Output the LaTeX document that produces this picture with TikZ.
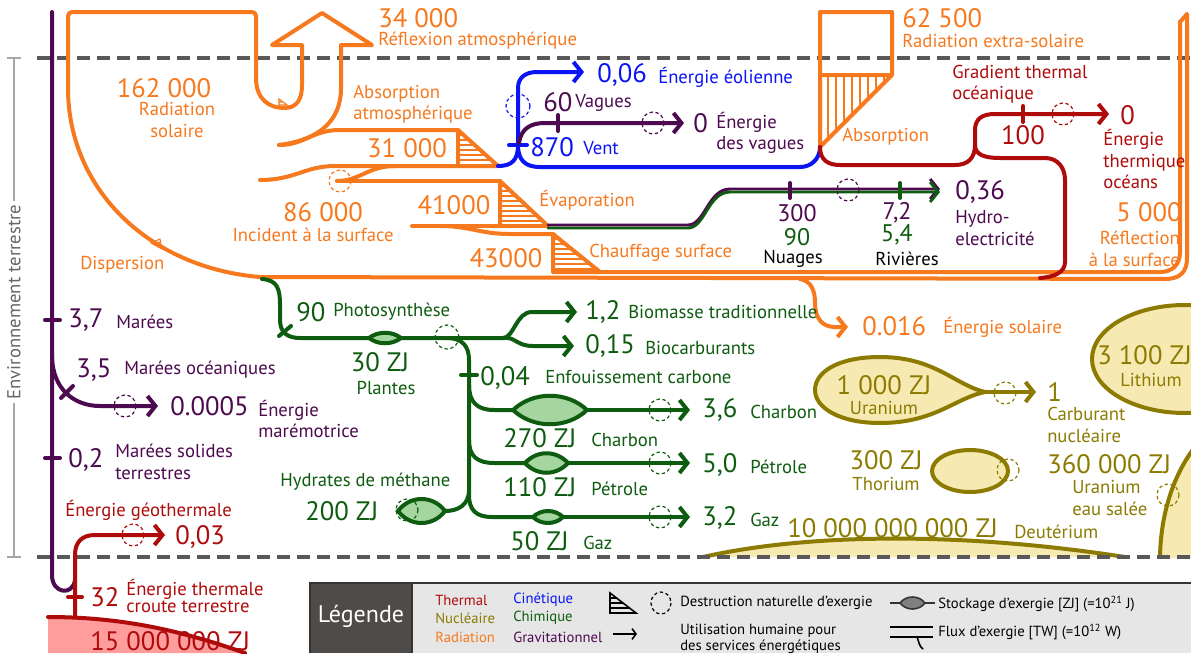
\documentclass[tikz,border=0pt]{standalone}
\usepackage{fontspec}
\setmainfont{PT Sans}
\usetikzlibrary{arrows.meta}
\definecolor{kor}{HTML}{F7791E}
\definecolor{kre}{HTML}{B00B0B}
\definecolor{kbl}{HTML}{0A14F5}
\definecolor{kpu}{HTML}{4E0A50}
\definecolor{kgr}{HTML}{0E5C10}
\definecolor{kgrf}{HTML}{A6D6A0}
\definecolor{kol}{HTML}{8C7B00}
\definecolor{kolf}{HTML}{F6EAB2}
\definecolor{kgy}{HTML}{5A5858}
\definecolor{kpk}{HTML}{FF9C9C}
\definecolor{klbg}{HTML}{E6E6E6}
\definecolor{kldk}{HTML}{4E4B49}
\tikzset{
 flow/.style={line width=3pt, line cap=round, line join=round},
 thinflow/.style={line width=2.2pt, line cap=round, line join=round},
 arr/.style={-{Straight Barb[length=6pt,width=15pt]}},
 dcirc/.style={line width=0.9pt, dash pattern=on 2.5pt off 2pt},
 hatch/.style={line width=0.8pt},
 big/.style={font=\fontsize{20}{22}\selectfont, inner sep=0pt},
 med/.style={font=\fontsize{18}{20}\selectfont, inner sep=0pt},
 lab/.style={font=\fontsize{14}{16}\selectfont, inner sep=0pt},
 leg/.style={font=\fontsize{11}{12}\selectfont, inner sep=0pt},
 gridline/.style={line width=3pt, draw=kgy, dash pattern=on 9.5pt off 5.5pt},
}
\begin{document}
\begin{tikzpicture}[x=0.75pt,y=-0.75pt]
\useasboundingbox (0,0) rectangle (1191,653);
\fill[white] (0,0) rectangle (1191,653);

% ---------- nuclear stocks ----------
\filldraw[fill=kolf,draw=kol,line width=3pt] (703,557) .. controls (800,535) and (950,530) .. (1125,557);
\begin{scope}
\clip (0,0) rectangle (1191,557);
\filldraw[fill=kolf,draw=kol,line width=3pt] (1262,560) ellipse [x radius=102, y radius=150];
\end{scope}
\filldraw[fill=kolf,draw=kol,line width=3pt] (1185,359) ellipse [x radius=93, y radius=54];
\filldraw[fill=kolf,draw=kol,line width=3pt] (970,471) ellipse [x radius=38, y radius=21];
\filldraw[fill=kolf,draw=kol,line width=3pt,line join=round] (985,392) .. controls (955,385) and (935,357) .. (880,357) .. controls (838,357) and (815,372) .. (815,390) .. controls (815,408) and (840,423) .. (880,423) .. controls (935,423) and (955,398) .. (985,392) -- cycle;
\draw[kol,flow,arr] (985,392) -- (1036,392);
\draw[kol,dcirc] (1005,393) circle[radius=11];
\draw[kol,dcirc] (1008,470) circle[radius=11];
\draw[kol,dcirc] (1168,495) circle[radius=11];

% ---------- earth crust ----------
\fill[kpk] (48,617) .. controls (120,617) and (180,630) .. (245,653) -- (48,653) -- cycle;
\draw[kre,flow] (48,617) .. controls (120,617) and (180,630) .. (245,653);

% ---------- boundaries ----------
\draw[gridline] (37,58) -- (1191,58);
\draw[gridline] (37,557) -- (1191,557);
\draw[black!35,line width=0.8pt] (14,58) -- (14,557) (7,58) -- (21,58) (7,557) -- (21,557);
\node[lab,black!60,fill=white,inner sep=3pt,rotate=90] (env) at (14,302) {Environnement terrestre};

% ---------- gravitational (purple) ----------
\draw[kpu,flow] (52,12) -- (52,575) .. controls (52,594) and (73,596) .. (75,580);
\draw[kpu,flow] (45,320) -- (60,320) (45,458) -- (60,458);
\draw[kpu,flow,arr] (52,355) .. controls (52,390) and (75,406) .. (100,406) -- (158,406);
\draw[kpu,flow] (61,398) -- (73,386);
\draw[kpu,dcirc] (125,406) circle[radius=11];

% ---------- geothermal (red) ----------
\draw[kre,flow,arr] (75,617) -- (75,555) .. controls (75,542) and (82,535) .. (95,535) -- (165,535);
\draw[kre,flow] (68,597) -- (82,597);
\draw[kre,dcirc] (133,535) circle[radius=11];

% ---------- radiation (orange) ----------
\draw[kor,flow,rounded corners=3] (256,80) -- (256,12) -- (68,12) -- (68,90);
\draw[kor,flow] (68,88) .. controls (68,190) and (150,268) .. (260,277) -- (1165,279) .. controls (1180,279) and (1187,272) .. (1187,258) -- (1187,14) -- (1180,22);
\draw[kor,flow] (600,272) -- (1160,272) .. controls (1172,272) and (1180,265) .. (1180,252) -- (1180,22);
% reflection arrow
\draw[kor,flow] (256,78) .. controls (256,100) and (270,108) .. (284,108) .. controls (298,108) and (302,98) .. (302,85) -- (302,45) -- (272,45) -- (322,13) -- (372,45) -- (341,45) -- (341,88) .. controls (341,122) and (318,140) .. (279,145);
\draw[kor,hatch] (279,99) -- (279,108) -- (291,108) -- cycle (279,102) -- (283,102) (279,105) -- (287,105);
% dispersion hatch
\draw[kor,hatch] (151,243) -- (160,239) -- (162,249) -- cycle (154,244) -- (160,242);
% absorption atmospherique band
\draw[kor,flow] (279,145) .. controls (305,145) and (312,130) .. (340,130) -- (458,130);
\draw[kor,flow] (260,180) .. controls (295,180) and (305,166) .. (335,166) -- (498,166);
\draw[kor,flow] (458,130) -- (458,166) (458,130) -- (498,166);
\foreach \yy in {135,140,...,162} {\draw[kor,hatch] (458,\yy) -- ({458+(\yy-130)*40/36},\yy);}
% incident band
\draw[kor,flow] (337,181) .. controls (360,181) and (368,166) .. (395,166);
\draw[kor,flow] (337,181) -- (500,181);
\draw[kor,dcirc] (340,181) circle[radius=11];
\draw[kor,flow] (500,181) -- (500,226) (500,181) -- (548,226);
\foreach \yy in {186,191,...,222} {\draw[kor,hatch] (500,\yy) -- ({500+(\yy-181)*48/45},\yy);}
\draw[kor,flow] (412,226) -- (548,226);
\draw[kor,flow] (440,226) .. controls (470,226) and (480,234) .. (510,234) -- (553,234);
\draw[kor,flow] (553,234) -- (553,272) -- (600,272) (553,234) -- (600,272);
\foreach \yy in {239,244,...,269} {\draw[kor,hatch] (553,\yy) -- ({553+(\yy-234)*47/38},\yy);}
% extra-solar box
\draw[kor,flow] (820,147) -- (820,12) -- (892,12) -- (892,75) -- (820,75) (892,75) -- (820,147);
\foreach \xx in {828,836,...,884} {\draw[kor,hatch] (\xx,75) -- (\xx,{75+(892-\xx)});}
% solar energy
\draw[kor,flow,arr] (800,279) .. controls (812,281) and (815,292) .. (815,303) .. controls (815,318) and (822,327) .. (835,327) -- (848,327);

% ---------- kinetic (blue) ----------
\draw[kbl,flow,arr] (498,166) .. controls (512,166) and (518,160) .. (518,145) -- (518,88) .. controls (518,78) and (525,72) .. (537,72) -- (584,72);
\draw[kbl,flow] (518,145) .. controls (518,160) and (525,167) .. (540,167) -- (800,167) .. controls (812,167) and (820,158) .. (820,147);
\draw[kbl,flow] (509,145) -- (527,145);
\draw[kbl,dcirc] (518,106) circle[radius=12];

% waves (purple)
\draw[kpu,flow,arr] (519,143) .. controls (521,129) and (530,123) .. (545,123) -- (684,123);
\draw[kpu,flow] (558,115) -- (558,131);
\draw[kpu,dcirc] (653,123) circle[radius=11];

% ---------- thermal ocean (red) ----------
\draw[kre,flow,arr] (820,147) .. controls (820,160) and (828,165) .. (840,165) -- (955,165) .. controls (968,165) and (975,158) .. (975,145) -- (975,130) .. controls (975,119) and (982,114) .. (995,114) -- (1109,114);
\draw[kre,flow] (975,145) .. controls (975,155) and (985,158) .. (1000,158) -- (1045,158) .. controls (1058,158) and (1065,168) .. (1065,180) -- (1065,262) .. controls (1065,272) and (1055,277) .. (1040,278);
\draw[kre,flow] (1023,106) -- (1023,122);
\draw[kre,dcirc] (1063,114) circle[radius=11];

% ---------- evaporation -> hydro ----------
\draw[kpu,thinflow,arr] (548,225) -- (688,225) .. controls (705,225) and (708,189) .. (730,189) -- (940,189);
\draw[kgr,thinflow,arr] (548,228) -- (688,228) .. controls (705,228) and (708,192) .. (730,192) -- (940,192);
\draw[kpu,flow] (790,183) -- (790,198);
\draw[kgr,flow] (900,183) -- (900,198);
\draw[kpu,dcirc] (848,190) circle[radius=11];

% ---------- chemical (green) ----------
\draw[kgr,flow] (262,279) .. controls (278,280) and (280,290) .. (280,305) -- (280,320) .. controls (280,333) and (288,338) .. (300,338) -- (505,338);
\draw[kgr,flow] (279,336) -- (291,326);
\draw[kgr,flow,arr] (503,338) .. controls (514,338) and (516,312) .. (532,312) -- (577,312);
\draw[kgr,flow,arr] (507,338) .. controls (515,338) and (518,346) .. (533,346) -- (574,346);
\draw[kgr,dcirc] (447,337) circle[radius=12];
\draw[kgr,flow] (447,338) .. controls (462,338) and (469,346) .. (469,360) -- (469,495) .. controls (469,510) and (476,517) .. (492,517) -- (533,517);
\draw[kgr,flow] (461,375) -- (477,375);
\draw[kgr,flow] (469,385) .. controls (469,402) and (477,410) .. (494,410) -- (513,410);
\draw[kgr,flow] (469,440) .. controls (469,456) and (477,463) .. (494,463) -- (525,463);
\draw[kgr,flow] (445,511) .. controls (458,511) and (469,505) .. (469,490);
\draw[kgr,flow,arr] (587,410) -- (690,410);
\draw[kgr,flow,arr] (568,463) -- (690,463);
\draw[kgr,flow,arr] (563,517) -- (690,517);
\filldraw[fill=kgrf,draw=kgr,line width=3pt] (369,338) .. controls (378,331) and (392,331) .. (401,338) .. controls (392,345) and (378,345) .. (369,338) -- cycle;
\filldraw[fill=kgrf,draw=kgr,line width=3pt] (513,410) .. controls (533,391) and (567,391) .. (587,410) .. controls (567,429) and (533,429) .. (513,410) -- cycle;
\filldraw[fill=kgrf,draw=kgr,line width=3pt] (525,463) .. controls (537,450) and (556,450) .. (568,463) .. controls (556,476) and (537,476) .. (525,463) -- cycle;
\filldraw[fill=kgrf,draw=kgr,line width=3pt] (533,517) .. controls (541,509) and (555,509) .. (563,517) .. controls (555,525) and (541,525) .. (533,517) -- cycle;
\filldraw[fill=kgrf,draw=kgr,line width=3pt] (398,511) .. controls (410,495) and (433,495) .. (445,511) .. controls (433,527) and (410,527) .. (398,511) -- cycle;
\draw[kgr,dcirc] (407,510) circle[radius=11];
\draw[kgr,dcirc] (660,410) circle[radius=11];
\draw[kgr,dcirc] (660,463) circle[radius=11];
\draw[kgr,dcirc] (660,517) circle[radius=11];

% ---------- texts: radiation ----------
\node[big,kor,anchor=west] (t34) at (378,18) {34 000};
\node[lab,kor,anchor=west] (t34l) at (378,41) {Réflexion atmosphérique};
\node[big,kor] (t162) at (164,88) {162 000};
\node[lab,kor,align=center] (t162l) at (177,120) {Radiation\\solaire};
\node[lab,kor,align=left,anchor=west] (tabs) at (353,104) {Absorption\\atmosphérique};
\node[big,kor] (t31) at (407,148) {31 000};
\node[big,kor] (t86) at (323,212) {86 000};
\node[lab,kor] (t86l) at (313,235) {Incident à la surface};
\node[big,kor] (t41) at (454,205) {41000};
\node[lab,kor,anchor=west] (tevap) at (539,200) {Évaporation};
\node[big,kor] (t43) at (506,258) {43000};
\node[lab,kor,anchor=west] (tchauf) at (589,253) {Chauffage surface};
\node[lab,kor,anchor=west] (tdisp) at (80,265) {Dispersion};
\node[big,kor,anchor=west] (t625) at (902,18) {62 500};
\node[lab,kor,anchor=west] (t625l) at (902,41) {Radiation extra-solaire};
\node[lab,kor,anchor=west] (tabs2) at (842,137) {Absorption};
\node[big,kor,anchor=east] (t5000) at (1182,212) {5 000};
\node[lab,kor,align=right,anchor=east] (t5000l) at (1180,249) {Réflection\\à la surface};
\node[big,kor,anchor=west] (t016) at (862,326) {0.016};
\node[lab,kor,anchor=west] (t016l) at (943,327) {Énergie solaire};

% ---------- texts: kinetic / gravitational ----------
\node[big,kbl,anchor=west] (t006) at (597,75) {0,06};
\node[lab,kbl,anchor=west] (t006l) at (658,77) {Énergie éolienne};
\node[big,kbl,anchor=west] (t870) at (530,147) {870};
\node[lab,kbl,anchor=west] (t870l) at (583,148) {Vent};
\node[big,kpu,anchor=west] (t60) at (543,102) {60};
\node[lab,kpu,anchor=west] (t60l) at (575,103) {Vagues};
\node[big,kpu,anchor=west] (t0v) at (693,123) {0};
\node[lab,kpu,align=left,anchor=west] (t0vl) at (716,133) {Énergie\\des vagues};
\node[big,kpu,anchor=west] (t036) at (955,192) {0,36};
\node[lab,kpu,align=left,anchor=west] (t036l) at (955,228) {Hydro-\\electricité};
\node[med,kpu] (t300) at (797,213) {300};
\node[med,kgr] (t90n) at (797,237) {90};
\node[lab,black] (tnuag) at (793,259) {Nuages};
\node[med,kpu] (t72) at (897,213) {7,2};
\node[med,kgr] (t54) at (897,235) {5,4};
\node[lab,black] (triv) at (907,259) {Rivières};
\node[big,kpu,anchor=west] (t37) at (68,320) {3,7};
\node[lab,kpu,anchor=west] (t37l) at (116,322) {Marées};
\node[big,kpu,anchor=west] (t35) at (76,370) {3,5};
\node[lab,kpu,anchor=west] (t35l) at (124,370) {Marées océaniques};
\node[big,kpu,anchor=west] (t0005) at (170,406) {0.0005};
\node[lab,kpu,align=left,anchor=west] (t0005l) at (258,419) {Énergie\\marémotrice};
\node[big,kpu,anchor=west] (t02) at (68,460) {0,2};
\node[lab,kpu,align=left,anchor=west] (t02l) at (115,462) {Marées solides\\terrestres};

% ---------- texts: chemical ----------
\node[big,kgr,anchor=west] (t90) at (296,312) {90};
\node[lab,kgr,anchor=west] (t90l) at (333,312) {Photosynthèse};
\node[big,kgr] (t30) at (380,362) {30 ZJ};
\node[lab,kgr] (t30l) at (386,388) {Plantes};
\node[big,kgr,anchor=west] (t12) at (585,312) {1,2};
\node[lab,kgr,anchor=west] (t12l) at (628,312) {Biomasse traditionnelle};
\node[big,kgr,anchor=west] (t015) at (585,346) {0,15};
\node[lab,kgr,anchor=west] (t015l) at (645,348) {Biocarburants};
\node[big,kgr,anchor=west] (t004) at (480,378) {0,04};
\node[lab,kgr,anchor=west] (t004l) at (545,377) {Enfouissement carbone};
\node[big,kgr,anchor=west] (t36) at (702,410) {3,6};
\node[lab,kgr,anchor=west] (t36l) at (750,412) {Charbon};
\node[big,kgr,anchor=west] (t270) at (503,438) {270 ZJ};
\node[lab,kgr,anchor=west] (t270l) at (591,440) {Charbon};
\node[big,kgr,anchor=west] (t50) at (702,465) {5,0};
\node[lab,kgr,anchor=west] (t50l) at (750,467) {Pétrole};
\node[big,kgr,anchor=west] (t110) at (503,487) {110 ZJ};
\node[lab,kgr,anchor=west] (t110l) at (591,489) {Pétrole};
\node[big,kgr,anchor=west] (t32g) at (702,518) {3,2};
\node[lab,kgr,anchor=west] (t32gl) at (750,520) {Gaz};
\node[big,kgr,anchor=west] (t50zj) at (510,541) {50 ZJ};
\node[lab,kgr,anchor=west] (t50zjl) at (583,543) {Gaz};
\node[lab,kgr,anchor=west] (thyd) at (280,482) {Hydrates de méthane};
\node[big,kgr,anchor=west] (t200) at (305,511) {200 ZJ};

% ---------- texts: thermal ----------
\node[lab,kre,align=left,anchor=west] (tgrad) at (952,84) {Gradient thermal\\océanique};
\node[big,kre] (t100) at (1023,135) {100};
\node[big,kre,anchor=west] (t0t) at (1120,115) {0};
\node[lab,kre,align=left,anchor=west] (t0tl) at (1103,159) {Énergie\\thermique\\océans};
\node[lab,kre,anchor=west] (tgeo) at (65,510) {Énergie géothermale};
\node[big,kre,anchor=west] (t003) at (175,537) {0,03};
\node[big,kre,anchor=west] (t32) at (90,597) {32};
\node[kre,inner sep=0pt,font=\fontsize{14}{13}\selectfont,align=left,anchor=west] (t32l) at (126,596) {Énergie thermale\\croute terrestre};
\node[big,kre,anchor=west] (tcrust) at (90,641) {15 000 000 ZJ};

% ---------- texts: nuclear ----------
\node[big,kol] (tu) at (884,385) {1 000 ZJ};
\node[lab,kol] (tul) at (884,408) {Uranium};
\node[big,kol,anchor=west] (t1) at (1047,392) {1};
\node[lab,kol,align=left,anchor=west] (t1l) at (1047,425) {Carburant\\nucléaire};
\node[big,kol,anchor=west] (tli) at (1097,355) {3 100 ZJ};
\node[lab,kol,anchor=west] (tlil) at (1120,380) {Lithium};
\node[big,kol] (tth) at (886,460) {300 ZJ};
\node[lab,kol] (tthl) at (886,484) {Thorium};
\node[big,kol,anchor=west] (tus) at (1047,464) {360 000 ZJ};
\node[lab,kol,align=left,anchor=west] (tusl) at (1072,498) {Uranium\\eau salée};
\node[big,kol,anchor=west] (tde) at (787,528) {10 000 000 000 ZJ};
\node[lab,kol,anchor=west] (tdel) at (1014,532) {Deutérium};

% ---------- legend ----------
\fill[klbg] (412,583) rectangle (1191,653);
\fill[kldk] (310,583) rectangle (412,653);
\draw[black!80,line width=1.5pt] (310,653) -- (310,583) -- (1191,583) (412,583) -- (412,653);
\node[white,inner sep=0pt,font=\fontsize{18}{20}\selectfont] (tleg) at (361,616) {Légende};
\node[leg,kre,anchor=west] (lth) at (435,600) {Thermal};
\node[leg,kol,anchor=west] (lnu) at (435,618) {Nucléaire};
\node[leg,kor,anchor=west] (lra) at (435,637) {Radiation};
\node[leg,kbl,anchor=west] (lci) at (513,600) {Cinétique};
\node[leg,kgr,anchor=west] (lch) at (513,618) {Chimique};
\node[leg,kpu,anchor=west] (lgr) at (513,637) {Gravitationnel};
\draw[black,line width=1.2pt] (610,593) -- (610,613) -- (636,613) -- cycle;
\foreach \yy in {598,603,608} {\draw[black,line width=0.8pt] (610,\yy) -- ({610+(\yy-593)*26/20},\yy);}
\draw[black,line width=1.2pt,-{Straight Barb[length=3pt,width=8pt]}] (613,634) -- (637,634);
\draw[black,dcirc] (661,603) ellipse [x radius=10, y radius=11];
\node[leg,black,anchor=west] (ldes) at (680,603) {Destruction naturelle d'exergie};
\node[leg,black,align=left,anchor=west] (luti) at (680,639) {Utilisation humaine pour\\des services énergétiques};
\draw[black!80,line width=1.2pt] (890,603) -- (935,603);
\filldraw[fill=black!50,draw=black!80,line width=1.2pt] (900,603) .. controls (906,595) and (919,595) .. (925,603) .. controls (919,611) and (906,611) .. (900,603) -- cycle;
\node[leg,black,anchor=west] (lsto) at (938,604) {Stockage d'exergie [ZJ] (=10\textsuperscript{21} J)};
\draw[black,line width=1.2pt] (890,627) -- (933,627) (890,637) -- (933,637);
\draw[black,line width=1.2pt] (917,637) .. controls (919,642) and (919,646) .. (923,649);
\node[leg,black,anchor=west] (lflu) at (938,632) {Flux d'exergie [TW] (=10\textsuperscript{12} W)};
\end{tikzpicture}
\end{document}
